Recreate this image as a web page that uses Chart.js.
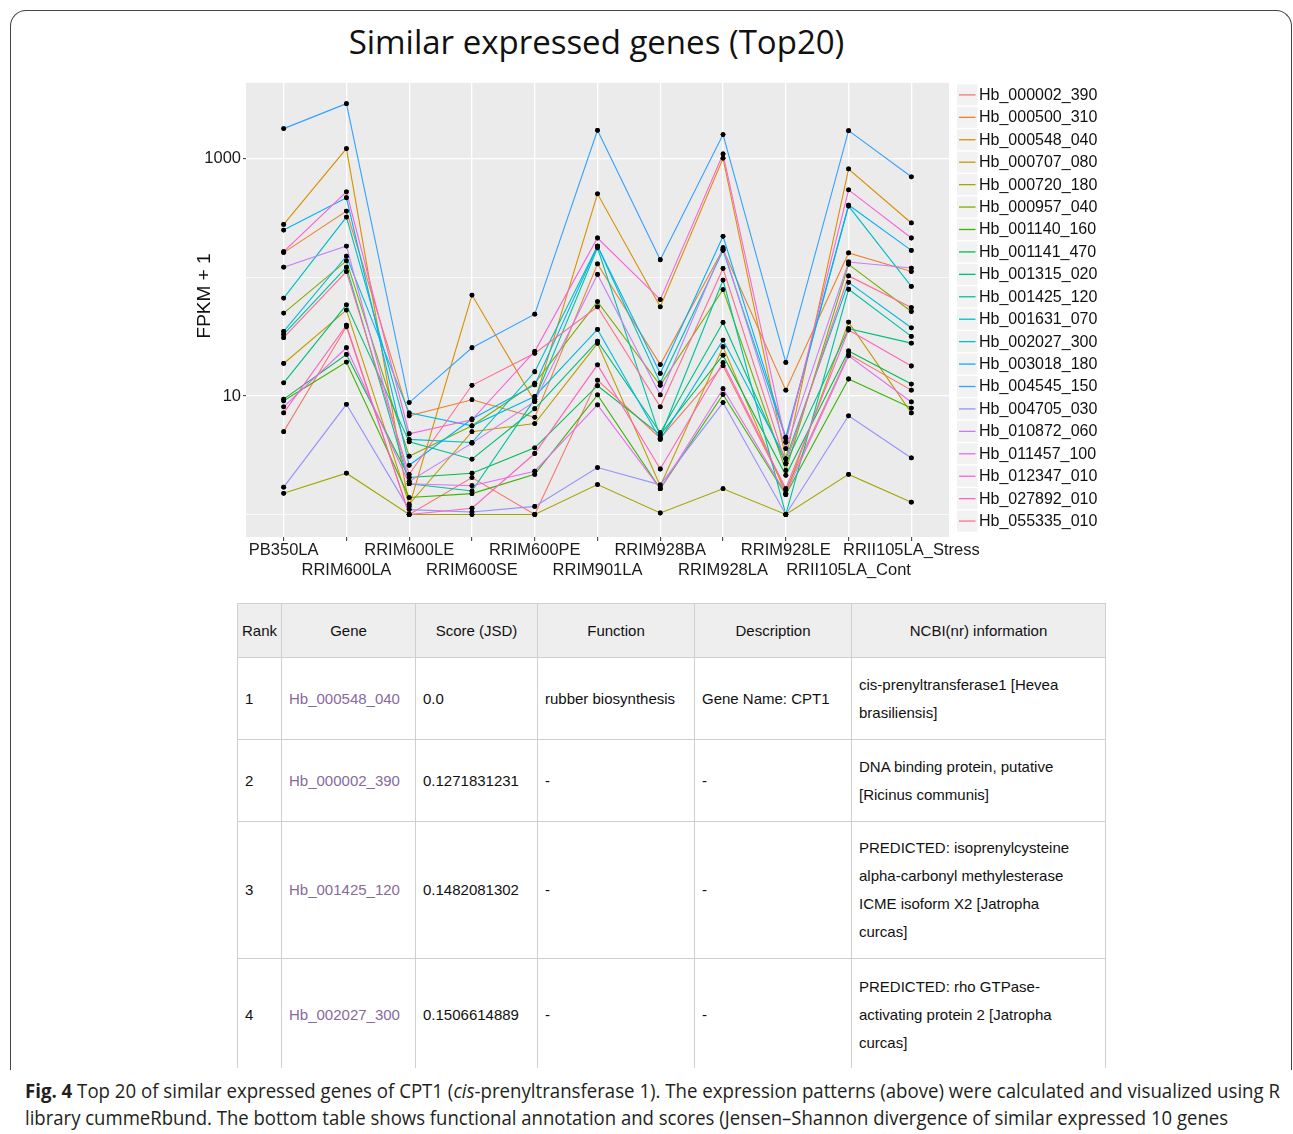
<!DOCTYPE html>
<html><head><meta charset="utf-8">
<script src="https://cdn.jsdelivr.net/npm/chart.js@4/dist/chart.umd.min.js"></script>
<style>
html,body{margin:0;padding:0;background:#fff;}
body{width:1293px;height:1134px;position:relative;overflow:hidden;font-family:"Liberation Sans",Arial,sans-serif;}
#frame{position:absolute;left:10px;top:10px;width:1282px;height:1060px;border:1.4px solid #444;border-bottom:none;border-radius:16px 16px 0 0;box-sizing:border-box;}
#title{position:absolute;left:0;width:1193px;top:20px;text-align:center;font-family:"Open Sans",sans-serif;font-size:33px;color:#111;line-height:44px;}
#cwrap{position:absolute;left:180px;top:71px;width:930px;height:514px;}
#tblwrap{position:absolute;left:237px;top:603px;width:870px;height:465px;overflow:hidden;}
#tbl{border-collapse:collapse;table-layout:fixed;width:868px;}
#tbl td,#tbl th{border:1.5px solid #cfcfcf;padding:0 7px;font-size:15px;line-height:28px;vertical-align:middle;text-align:left;white-space:nowrap;overflow:hidden;color:#111;}
#tbl th{background:#eeeeee;font-weight:normal;text-align:center;padding:0 2px;}
#tbl td.g{color:#876a9c;}
.cap{position:absolute;left:25px;white-space:nowrap;font-family:"Open Sans",sans-serif;font-size:20px;color:#231f20;transform-origin:0 50%;line-height:24px;}
</style></head>
<body>
<div id="frame"></div>
<div id="title">Similar expressed genes (Top20)</div>
<div id="cwrap"><canvas id="c" width="930" height="514"></canvas></div>
<div id="tblwrap"><table id="tbl">
<colgroup><col style="width:44px"><col style="width:134px"><col style="width:122px"><col style="width:157px"><col style="width:157px"><col style="width:254px"></colgroup>
<tr style="height:54px"><th>Rank</th><th>Gene</th><th>Score (JSD)</th><th>Function</th><th>Description</th><th>NCBI(nr) information</th></tr>
<tr style="height:82px"><td>1</td><td class="g">Hb_000548_040</td><td>0.0</td><td>rubber biosynthesis</td><td>Gene Name: CPT1</td><td>cis-prenyltransferase1 [Hevea<br>brasiliensis]</td></tr>
<tr style="height:82px"><td>2</td><td class="g">Hb_000002_390</td><td>0.1271831231</td><td>-</td><td>-</td><td>DNA binding protein, putative<br>[Ricinus communis]</td></tr>
<tr style="height:137px"><td>3</td><td class="g">Hb_001425_120</td><td>0.1482081302</td><td>-</td><td>-</td><td>PREDICTED: isoprenylcysteine<br>alpha-carbonyl methylesterase<br>ICME isoform X2 [Jatropha<br>curcas]</td></tr>
<tr style="height:112px"><td>4</td><td class="g">Hb_002027_300</td><td>0.1506614889</td><td>-</td><td>-</td><td>PREDICTED: rho GTPase-<br>activating protein 2 [Jatropha<br>curcas]</td></tr>
</table></div>
<div id="cap1" class="cap" style="top:1079px"><b>Fig. 4</b> Top 20 of similar expressed genes of CPT1 (<i>cis</i>-prenyltransferase 1). The expression patterns (above) were calculated and visualized using R</div>
<div id="cap2" class="cap" style="top:1106px">library cummeRbund. The bottom table shows functional annotation and scores (Jensen–Shannon divergence of similar expressed 10 genes</div>
<script>
const categories = ["PB350LA","RRIM600LA","RRIM600LE","RRIM600SE","RRIM600PE","RRIM901LA","RRIM928BA","RRIM928LA","RRIM928LE","RRII105LA_Cont","RRII105LA_Stress"];
const geneIds = ["Hb_000002_390","Hb_000500_310","Hb_000548_040","Hb_000707_080","Hb_000720_180","Hb_000957_040","Hb_001140_160","Hb_001141_470","Hb_001315_020","Hb_001425_120","Hb_001631_070","Hb_002027_300","Hb_003018_180","Hb_004545_150","Hb_004705_030","Hb_010872_060","Hb_011457_100","Hb_012347_010","Hb_027892_010","Hb_055335_010"];
const lineColors = ["#F8766D","#EA8331","#D89000","#C09B00","#A3A500","#7CAE00","#39B600","#00BB4E","#00BF7D","#00C1A3","#00BFC4","#00BAE0","#00B0F6","#35A2FF","#9590FF","#C77CFF","#E76BF3","#FA62DB","#FF62BC","#FF6C91"];
const yTickValues = [1, 10, 100, 1000];
const yTickLabels = ["", "10", "", "1000"];
const yAxisTitle = "FPKM + 1";

// FPKM + 1 per sample, in category order
const Hb_000002_390 = [5.0, 38.3, 1.0, 2.05, 1.0, 13.6, 4.4, 18, 1.6, 22.5, 11.2];
const Hb_000500_310 = [162, 363, 6.8, 9.3, 6.6, 130, 18.4, 173, 11.2, 161, 112];
const Hb_000548_040 = [280, 1222, 1.17, 71, 9.0, 507, 56.5, 1013, 2.95, 822, 288];
const Hb_000707_080 = [18.8, 53, 1.22, 5.0, 5.85, 27.8, 1.74, 26, 1.5, 42, 7.2];
const Hb_000720_180 = [1.51, 2.23, 1.0, 1.0, 1.0, 1.79, 1.03, 1.65, 1.0, 2.18, 1.27];
const Hb_000957_040 = [50, 138, 3.1, 5.6, 12.8, 62.5, 12.3, 79, 2.35, 129, 51.6];
const Hb_001140_160 = [9.1, 19.3, 1.39, 1.5, 2.18, 10.2, 1.65, 10.3, 1.47, 13.9, 7.9];
const Hb_001141_470 = [9.4, 22.4, 2.05, 2.23, 3.65, 12.2, 4.7, 22.1, 2.14, 24, 12.6];
const Hb_001315_020 = [12.9, 58.7, 4.1, 2.93, 7.8, 29, 4.9, 41.7, 2.68, 37, 27.9];
const Hb_001425_120 = [33, 122, 1.82, 1.58, 9.4, 178, 4.5, 95, 1.0, 79.5, 31.8];
const Hb_001631_070 = [67, 323, 4.3, 4.05, 16, 184, 12.9, 169, 4.4, 400, 84];
const Hb_002027_300 = [35, 151, 7.2, 5.6, 9.9, 36.4, 4.3, 29.6, 2.95, 91, 37.6];
const Hb_003018_180 = [251, 470, 2.6, 6.4, 12.4, 184, 15.5, 222, 4.5, 408, 169];
const Hb_004545_150 = [1800, 2925, 8.8, 25.5, 49, 1742, 141, 1602, 19.2, 1730, 706];
const Hb_004705_030 = [1.70, 8.5, 1.1, 1.05, 1.17, 2.49, 1.78, 8.8, 1.0, 6.8, 3.0];
const Hb_010872_060 = [122, 184, 1.9, 4.0, 9.0, 106, 10.2, 178, 3.6, 135, 120];
const Hb_011457_100 = [8.1, 25.5, 1.82, 1.75, 2.32, 8.4, 1.65, 11.5, 1.5, 21.8, 8.9];
const Hb_012347_010 = [165, 527, 4.8, 6.3, 23.8, 215, 65, 1101, 4.07, 548, 215];
const Hb_027892_010 = [7.2, 39.6, 1.0, 1.13, 3.27, 18.3, 2.42, 19.1, 1.65, 36, 17.9];
const Hb_055335_010 = [31, 112, 2.18, 12.3, 22.9, 56.5, 8.1, 119, 2.7, 103, 55.7];

const seriesValues = [Hb_000002_390,Hb_000500_310,Hb_000548_040,Hb_000707_080,Hb_000720_180,Hb_000957_040,Hb_001140_160,Hb_001141_470,Hb_001315_020,Hb_001425_120,Hb_001631_070,Hb_002027_300,Hb_003018_180,Hb_004545_150,Hb_004705_030,Hb_010872_060,Hb_011457_100,Hb_012347_010,Hb_027892_010,Hb_055335_010];

const FONT = '"Liberation Sans", Arial, sans-serif';

const datasets = geneIds.map((g, i) => ({
  label: g,
  data: seriesValues[i].map((v, j) => ({x: j, y: v})),
  borderColor: lineColors[i],
  backgroundColor: lineColors[i],
  borderWidth: 1.1,
  pointRadius: 2.4,
  pointBackgroundColor: '#000',
  pointBorderWidth: 0,
  tension: 0,
  fill: false,
  order: geneIds.length - i
}));

const panelBg = {
  id: 'panelBg',
  beforeDraw(chart) {
    const {ctx, chartArea: a} = chart;
    ctx.save(); ctx.fillStyle = '#EBEBEB';
    ctx.fillRect(a.left, a.top, a.right - a.left, a.bottom - a.top);
    ctx.restore();
  }
};
const pointsOnTop = {
  id: 'pointsOnTop',
  afterDatasetsDraw(chart) {
    const ctx = chart.ctx;
    chart.getSortedVisibleDatasetMetas().forEach(m => m.data.forEach(p => p.draw(ctx, chart.chartArea)));
  }
};
const yTitle = {
  id: 'yTitle',
  afterDraw(chart) {
    const {ctx, chartArea: a} = chart;
    ctx.save();
    ctx.font = '19px ' + FONT;
    ctx.fillStyle = '#111';
    ctx.textAlign = 'center';
    ctx.textBaseline = 'middle';
    ctx.translate(25, (a.top + a.bottom) / 2 - 14);
    ctx.rotate(-Math.PI / 2);
    ctx.fillText(yAxisTitle, 0, 0);
    ctx.restore();
  }
};
const ggLegend = {
  id: 'ggLegend',
  afterDraw(chart) {
    const {ctx, chartArea: a} = chart;
    const x0 = a.right + 8, y0 = a.top + 1.5, rowH = 22.43;
    ctx.save();
    ctx.font = '16px ' + FONT;
    ctx.textBaseline = 'middle';
    chart.data.datasets.forEach((d, i) => {
      const yt = y0 + i * rowH;
      ctx.fillStyle = '#F2F2F2';
      ctx.fillRect(x0, yt, 20.5, 21);
      ctx.strokeStyle = d.borderColor; ctx.lineWidth = 1.3;
      ctx.beginPath(); ctx.moveTo(x0 + 2, yt + 10.5); ctx.lineTo(x0 + 18.5, yt + 10.5); ctx.stroke();
      ctx.fillStyle = '#111';
      ctx.fillText(d.label, x0 + 22, yt + 11);
    });
    ctx.restore();
  }
};

new Chart(document.getElementById('c'), {
  type: 'line',
  data: {datasets},
  plugins: [panelBg, pointsOnTop, yTitle, ggLegend],
  options: {
    responsive: false, animation: false,
    layout: {padding: {top: 8, right: 161, left: 0, bottom: 0}},
    plugins: {legend: {display: false}, tooltip: {enabled: false}},
    scales: {
      x: {
        type: 'linear', min: -0.6, max: 10.6, bounds: 'data',
        afterBuildTicks: s => { s.ticks = categories.map((c, i) => ({value: i})); },
        afterFit: s => { s.height = 48; },
        grid: {color: '#ffffff', lineWidth: 1.3, drawTicks: true, tickLength: 4, tickColor: '#333', tickWidth: 1},
        border: {display: false},
        ticks: {
          autoSkip: false, maxRotation: 0, minRotation: 0, padding: 0, color: '#1a1a1a',
          font: {family: FONT, size: 16.5, lineHeight: 1.2},
          callback: v => { const i = Math.round(v); return i % 2 === 0 ? [categories[i], ''] : ['', categories[i]]; }
        }
      },
      y: {
        type: 'logarithmic', min: 0.646, max: 4375, bounds: 'data',
        afterBuildTicks: s => { s.ticks = yTickValues.map(v => ({value: v})); },
        afterFit: s => { s.width = 66; },
        grid: {
          color: '#ffffff',
          lineWidth: c => (yTickLabels[c.index] ? 1.3 : 0.7),
          tickLength: 3,
          tickColor: c => (yTickLabels[c.index] ? '#333' : 'rgba(0,0,0,0)'),
          tickWidth: 1
        },
        border: {display: false},
        ticks: {padding: 2, color: '#1a1a1a', font: {family: FONT, size: 16.5}, callback: (v, i) => yTickLabels[i]},
        title: {display: false}
      }
    }
  }
});

function fitCaps() {
  [['cap1', 1255], ['cap2', 1203]].forEach(([id, w]) => {
    const el = document.getElementById(id);
    el.style.transform = 'none';
    const cw = el.getBoundingClientRect().width;
    el.style.transform = 'scaleX(' + (w / cw) + ')';
  });
}
fitCaps();
if (document.fonts && document.fonts.ready) document.fonts.ready.then(fitCaps);
</script>
</body></html>
